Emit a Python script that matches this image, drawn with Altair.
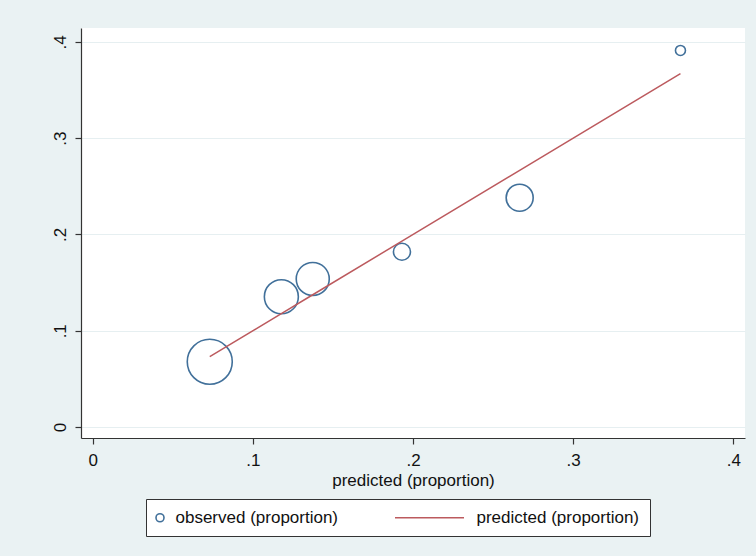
import altair as alt
import pandas as pd

# values
pred_x = [0.0731, 0.1178, 0.1374, 0.1931, 0.2666, 0.3670]
observed = [0.0678, 0.1354, 0.1538, 0.1821, 0.2382, 0.3912]
predicted = [0.0731, 0.1178, 0.1374, 0.1931, 0.2666, 0.3670]
weights = [405, 231, 218, 58, 146, 20]
series = ["observed (proportion)", "predicted (proportion)"]
x_ticks = [0, 0.1, 0.2, 0.3, 0.4]
y_ticks = [0, 0.1, 0.2, 0.3, 0.4]

NAVY = "#41709A"
MAROON = "#BC5A5E"
FONT = "Liberation Sans"

pts = pd.DataFrame({"x": pred_x, "y": observed, "w": weights, "series": series[0]})
ln = pd.DataFrame({"x": pred_x, "y": predicted, "series": series[1]})

xscale = alt.Scale(domain=[-0.0073, 0.4073], nice=False, zero=False)
yscale = alt.Scale(domain=[-0.0114, 0.4145], nice=False, zero=False)
cscale = alt.Scale(domain=series, range=[NAVY, MAROON])
sscale = alt.Scale(domain=series, range=["circle", "M-16.5,0L0.75,0"])

nbsp = "\u00a0" * 6
leg = alt.Legend(
    title=None, orient="none", legendX=65, legendY=471, direction="horizontal",
    strokeColor="#333333", fillColor="white", padding=10, columnPadding=52,
    labelOffset=7, symbolOffset=-4.5, labelFontSize=17, labelFont=FONT,
    labelColor="#111111", labelLimit=400, symbolSize=64, symbolStrokeWidth=1.6,
    labelExpr="datum.value == 'predicted (proportion)' ? datum.value + '" + nbsp + "' : datum.value",
)

xaxis = alt.Axis(
    values=x_ticks, title="predicted (proportion)", grid=False,
    labelExpr="datum.value == 0 ? '0' : '.' + format(datum.value * 10, 'd')",
    tickSize=6, labelPadding=8, titlePadding=4,
)
yaxis = alt.Axis(
    values=y_ticks, title=None, grid=True, gridColor="#E6EFF1",
    labelExpr="datum.value == 0 ? '0' : '.' + format(datum.value * 10, 'd')",
    labelAngle=270, labelAlign="center", labelBaseline="alphabetic",
    tickSize=6, labelPadding=10,
)

points = alt.Chart(pts).mark_point(filled=False, strokeWidth=1.6, opacity=1).encode(
    x=alt.X("x:Q", scale=xscale, axis=xaxis),
    y=alt.Y("y:Q", scale=yscale, axis=yaxis),
    size=alt.Size("w:Q", scale=alt.Scale(domain=[0, 405], range=[0, 2025]), legend=None),
    color=alt.Color("series:N", scale=cscale, legend=leg),
    shape=alt.Shape("series:N", scale=sscale, legend=leg),
)

line = alt.Chart(ln).mark_line(strokeWidth=1.5).encode(
    x=alt.X("x:Q", scale=xscale),
    y=alt.Y("y:Q", scale=yscale),
    color=alt.Color("series:N", scale=cscale, legend=leg),
)

chart = alt.layer(points, line).properties(
    width=664, height=410,
    autosize=alt.AutoSizeParams(type="none"),
    padding={"left": 81, "top": 28, "right": 11, "bottom": 118},
    background="#EAF2F3",
).configure_view(
    stroke=None, fill="white"
).configure_axis(
    labelFont=FONT, titleFont=FONT, labelFontSize=17, titleFontSize=17,
    titleFontWeight="normal", labelColor="#111111", titleColor="#111111",
    domainColor="#333333", tickColor="#333333", domainWidth=1.2, tickWidth=1.2,
)

chart.save("out.html", embed_options={"renderer": "svg", "actions": False})
